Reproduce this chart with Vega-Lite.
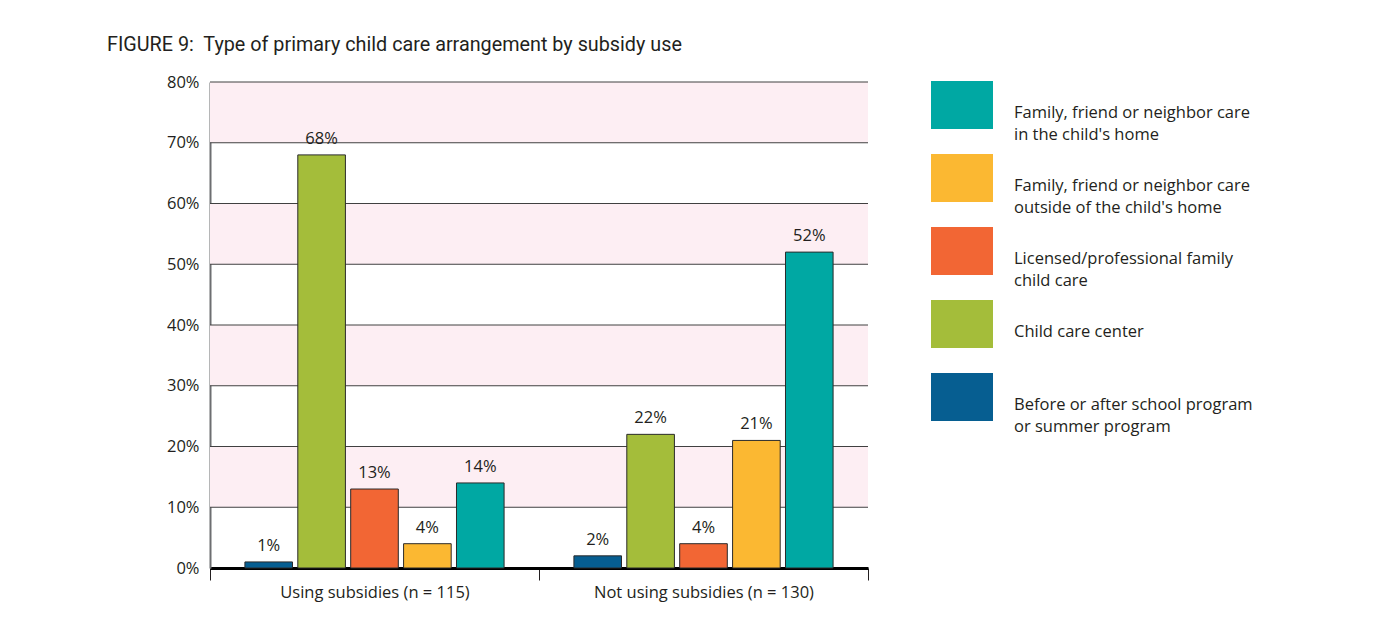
{
  "$schema": "https://vega.github.io/schema/vega-lite/v6.json",
  "width": 658,
  "height": 486,
  "autosize": "none",
  "padding": {"left": 210, "top": 82, "right": 508, "bottom": 53},
  "background": "white",
  "title": {
    "text": "FIGURE 9:\u00a0 Type of primary child care arrangement by subsidy use",
    "anchor": "start",
    "frame": "group",
    "dx": -103,
    "offset": 3,
    "baseline": "alphabetic",
    "font": "Roboto",
    "fontSize": 19.8,
    "fontWeight": "normal",
    "color": "#231f20"
  },
  "config": {
    "view": {"stroke": null},
    "axis": {"labelFont": "Open Sans", "labelColor": "#231f20", "labelFontSize": 16.5}
  },
  "datasets": {
    "bands": [
      {"lo": 0.1, "hi": 0.2},
      {"lo": 0.3, "hi": 0.4},
      {"lo": 0.5, "hi": 0.6},
      {"lo": 0.7, "hi": 0.8}
    ],
    "grid": [
      {"v": 0.1}, {"v": 0.2}, {"v": 0.3}, {"v": 0.4},
      {"v": 0.5}, {"v": 0.6}, {"v": 0.7}, {"v": 0.8}
    ],
    "bars": [
      {"group": "Using subsidies (n = 115)", "type": "Before or after school program|or summer program", "pct": 0.01},
      {"group": "Using subsidies (n = 115)", "type": "Child care center", "pct": 0.68},
      {"group": "Using subsidies (n = 115)", "type": "Licensed/professional family|child care", "pct": 0.13},
      {"group": "Using subsidies (n = 115)", "type": "Family, friend or neighbor care|outside of the child's home", "pct": 0.04},
      {"group": "Using subsidies (n = 115)", "type": "Family, friend or neighbor care|in  the child's home", "pct": 0.14},
      {"group": "Not using subsidies (n = 130)", "type": "Before or after school program|or summer program", "pct": 0.02},
      {"group": "Not using subsidies (n = 130)", "type": "Child care center", "pct": 0.22},
      {"group": "Not using subsidies (n = 130)", "type": "Licensed/professional family|child care", "pct": 0.04},
      {"group": "Not using subsidies (n = 130)", "type": "Family, friend or neighbor care|outside of the child's home", "pct": 0.21},
      {"group": "Not using subsidies (n = 130)", "type": "Family, friend or neighbor care|in  the child's home", "pct": 0.52}
    ]
  },
  "layer": [
    {
      "data": {"name": "bands"},
      "mark": {"type": "rect", "color": "#fdeef3"},
      "encoding": {
        "y": {
          "field": "lo", "type": "quantitative",
          "scale": {"domain": [0, 0.8], "nice": false},
          "axis": {
            "title": null, "format": ".0%",
            "values": [0, 0.1, 0.2, 0.3, 0.4, 0.5, 0.6, 0.7, 0.8],
            "grid": false, "ticks": false,
            "domainColor": "#6d6e71", "domainWidth": 2,
            "labelPadding": 11
          }
        },
        "y2": {"field": "hi"}
      }
    },
    {
      "data": {"name": "grid"},
      "mark": {"type": "rule", "color": "#404040", "strokeWidth": 1},
      "encoding": {"y": {"field": "v", "type": "quantitative"}}
    },
    {
      "data": {"name": "bars"},
      "mark": {"type": "bar", "stroke": "#2a2a2a", "strokeWidth": 1},
      "encoding": {
        "x": {
          "field": "group", "type": "nominal",
          "sort": ["Using subsidies (n = 115)", "Not using subsidies (n = 130)"],
          "scale": {"paddingInner": 0, "paddingOuter": 0},
          "axis": {
            "title": null, "labelAngle": 0, "tickBand": "extent",
            "tickSize": 12, "tickColor": "#231f20", "tickWidth": 1,
            "domainColor": "#000000", "domainWidth": 3,
            "labelPadding": 4, "labelLimit": 400
          }
        },
        "xOffset": {
          "field": "type", "type": "nominal",
          "sort": [
            "Before or after school program|or summer program",
            "Child care center",
            "Licensed/professional family|child care",
            "Family, friend or neighbor care|outside of the child's home",
            "Family, friend or neighbor care|in  the child's home"
          ],
          "scale": {"paddingInner": 0.1, "paddingOuter": 0.66}
        },
        "y": {"field": "pct", "type": "quantitative"},
        "color": {
          "field": "type", "type": "nominal",
          "scale": {
            "domain": [
              "Family, friend or neighbor care|in  the child's home",
              "Family, friend or neighbor care|outside of the child's home",
              "Licensed/professional family|child care",
              "Child care center",
              "Before or after school program|or summer program"
            ],
            "range": ["#00a8a3", "#fbb832", "#f26634", "#a4bd3a", "#065e91"]
          },
          "legend": {
            "title": null,
            "orient": "none",
            "legendX": 721,
            "legendY": -8,
            "padding": 0,
            "symbolType": "M-1,-0.774L1,-0.774L1,0.774L-1,0.774Z",
            "symbolSize": 3844,
            "symbolStrokeWidth": 0,
            "labelFont": "Open Sans",
            "labelFontSize": 16.5,
            "labelColor": "#231f20",
            "labelBaseline": "top",
            "labelOffset": 21,
            "labelLimit": 400,
            "rowPadding": 3,
            "gridAlign": "all",
            "labelExpr": "split(datum.label, '|')",
            "encoding": {"labels": {"lineHeight": {"value": 22}}}
          }
        }
      }
    },
    {
      "data": {"name": "bars"},
      "mark": {"type": "text", "baseline": "alphabetic", "dy": -11, "font": "Open Sans", "fontSize": 16.5, "color": "#231f20"},
      "encoding": {
        "x": {"field": "group", "type": "nominal", "sort": ["Using subsidies (n = 115)", "Not using subsidies (n = 130)"]},
        "xOffset": {
          "field": "type", "type": "nominal",
          "sort": [
            "Before or after school program|or summer program",
            "Child care center",
            "Licensed/professional family|child care",
            "Family, friend or neighbor care|outside of the child's home",
            "Family, friend or neighbor care|in  the child's home"
          ]
        },
        "y": {"field": "pct", "type": "quantitative"},
        "text": {"field": "pct", "type": "quantitative", "format": ".0%"}
      }
    }
  ]
}
